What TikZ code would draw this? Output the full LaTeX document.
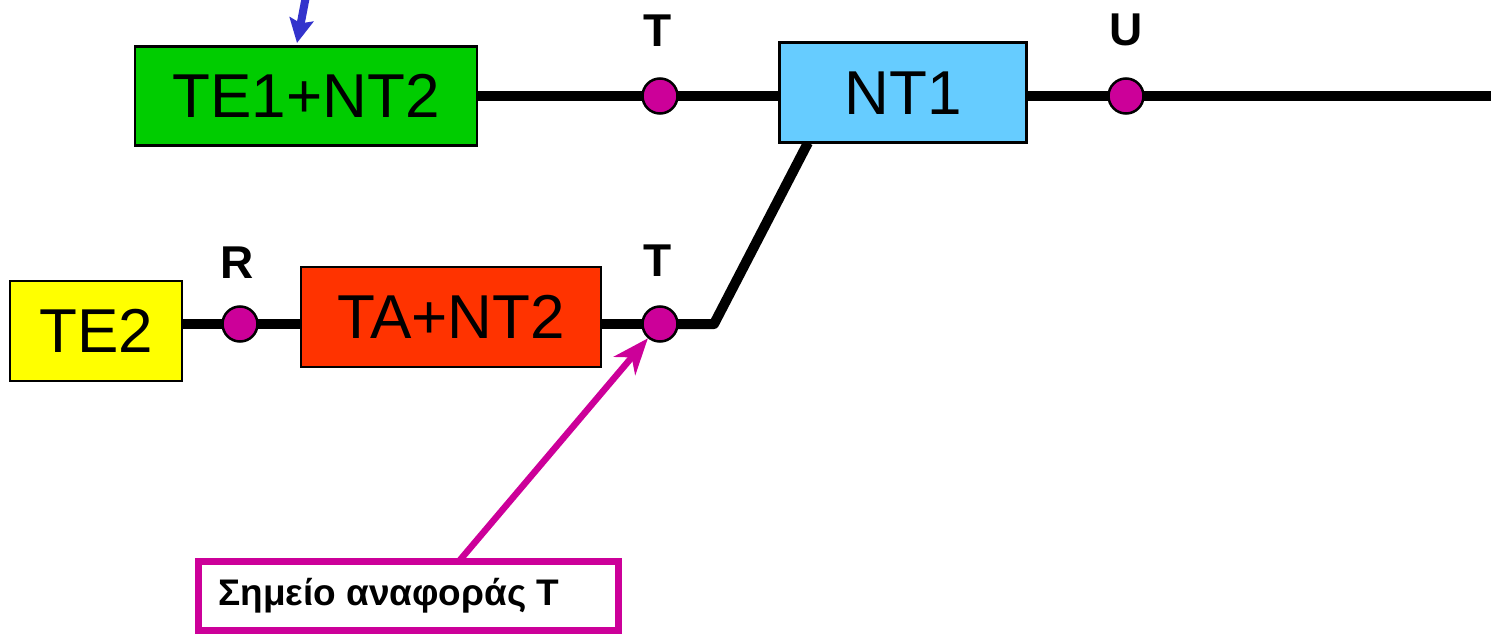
\documentclass[tikz,border=0pt]{standalone}
\usepackage{fontspec}
\setmainfont{Liberation Sans}
\usetikzlibrary{arrows.meta,backgrounds}
\definecolor{boxgreen}{HTML}{00CC00}
\definecolor{boxblue}{HTML}{66CCFF}
\definecolor{boxyellow}{HTML}{FFFF00}
\definecolor{boxred}{HTML}{FF3300}
\definecolor{refmag}{HTML}{CC0099}
\definecolor{arrblue}{HTML}{3333CC}
\tikzset{
  unitbox/.style={draw=black, line width=2.5pt, inner sep=0pt, font=\fontsize{62}{66}\selectfont},
  refdot/.style={circle, draw=black, line width=2.5pt, fill=refmag, minimum size=35pt, inner sep=0pt},
  reflabel/.style={font=\fontsize{46}{50}\selectfont\bfseries, inner sep=0pt},
  bus/.style={line width=10pt, line join=round},
  refbox/.style={draw=refmag, line width=7pt, inner sep=0pt, minimum width=420pt, minimum height=69pt, fill=white},
  refarrow/.style={draw=refmag, line width=6.5pt, -{Stealth[length=36pt,width=28pt,inset=11pt]}},
  bluearrow/.style={draw=arrblue, line width=8pt, -{Stealth[length=24pt,width=24pt,inset=4pt]}}
}
\begin{document}
\begin{tikzpicture}[x=1pt,y=-1pt]
\useasboundingbox (0,0) rectangle (1491,634);
% boxes
\node[unitbox, fill=boxgreen, minimum width=342pt, minimum height=99pt] (te1) at (306,96) {TE1+NT2};
\node[unitbox, fill=boxblue, minimum width=247pt, minimum height=100pt] (nt1) at (903,92.7) {NT1};
\node[unitbox, fill=boxyellow, minimum width=172pt, minimum height=100pt] (te2) at (96,331) {TE2};
\node[unitbox, fill=boxred, minimum width=300pt, minimum height=100pt] (ta) at (451,317) {TA+NT2};
% reference points
\node[refdot] (t1) at (660,96) {};
\node[refdot] (u) at (1126,96) {};
\node[refdot] (r) at (240,324) {};
\node[refdot] (t2) at (660,324) {};
\node[reflabel] (t1lab) at (658,31) {T};
\node[reflabel] (ulab) at (1126,30) {U};
\node[reflabel] (rlab) at (237,263) {R};
\node[reflabel] (t2lab) at (658,261) {T};
% free ends
\coordinate (uend) at (1491,96);
\coordinate (bend) at (714,324);
\coordinate (ntb) at (808,142.7);
\coordinate (bstart) at (306,-4);
\coordinate (btip) at (297,43);
\coordinate (rstart) at (460,560);
% connectors
\begin{pgfonlayer}{background}
\draw[bus] (te1.east |- t1) -- (t1.center);
\draw[bus] (t1.center) -- (nt1.west |- t1);
\draw[bus] (nt1.east |- u) -- (u.center);
\draw[bus] (u.center) -- (uend);
\draw[bus] (te2.east |- r) -- (r.center);
\draw[bus] (r.center) -- (ta.west |- r);
\draw[bus] (ta.east |- t2) -- (t2.center);
\draw[bus] (t2.center) -- (bend) -- (ntb);
\end{pgfonlayer}
\draw[bluearrow] (bstart) -- (btip);
\draw[refarrow] (rstart) -- (t2);
% reference box
\node[refbox] (ref) at (408.5,596) {};
\node[font=\fontsize{37}{40}\selectfont\bfseries, anchor=west, inner sep=0pt] (reftext) at (218,596) {Σημείο αναφοράς T};
\end{tikzpicture}
\end{document}
